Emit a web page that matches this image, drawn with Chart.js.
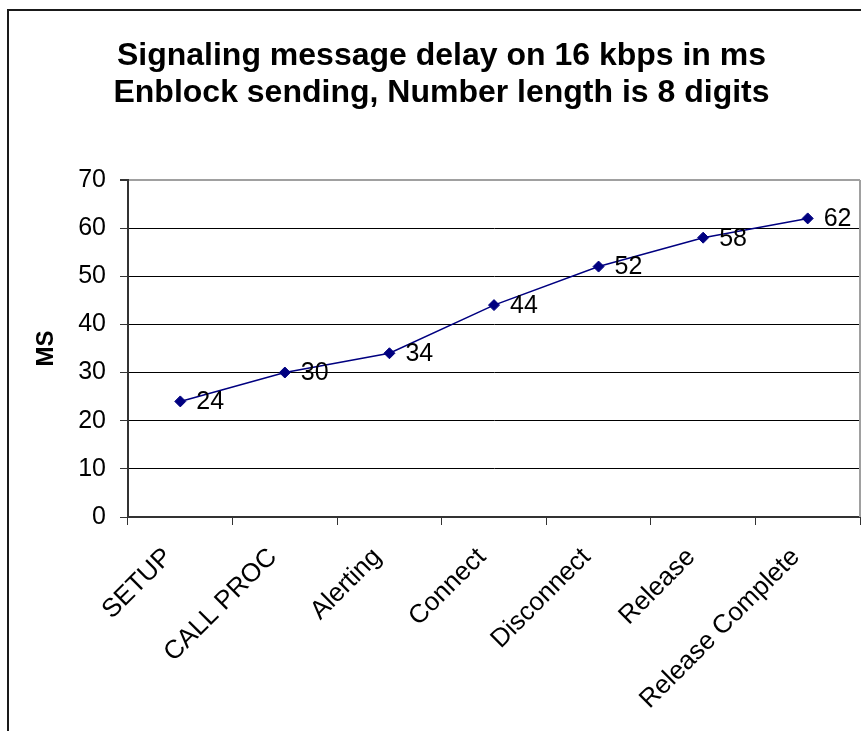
<!DOCTYPE html>
<html>
<head>
<meta charset="utf-8">
<script src="https://cdn.jsdelivr.net/npm/chart.js@4.4.1/dist/chart.umd.min.js"></script>
<style>
    body { margin: 0; background: #fff; overflow: hidden; }
    #grafic { position: absolute; left: 0; top: 0; }
    #frame {
        position: absolute; left: 7px; top: 9px; width: 900px; height: 800px;
        border: 2px solid #1a1a1a; pointer-events: none;
    }
</style>
</head>
<body>
<canvas id="grafic" width="883" height="731"></canvas>
<div id="frame"></div>
<script>
const categories = ['SETUP', 'CALL PROC', 'Alerting', 'Connect', 'Disconnect', 'Release', 'Release Complete'];
const delays = [24, 30, 34, 44, 52, 58, 62];
const title_lines = ['Signaling message delay on 16 kbps in ms', 'Enblock sending, Number length is 8 digits'];
const y_max = 70;
const y_step = 10;

const font_family = "'Liberation Sans', Arial, sans-serif";
Chart.defaults.color = '#000';
Chart.defaults.font.family = font_family;

// values written next to each point
const point_labels = {
    id: 'point_labels',
    afterDatasetsDraw(chart) {
        const ctx = chart.ctx;
        const meta = chart.getDatasetMeta(0);
        ctx.save();
        ctx.font = '25px ' + font_family;
        ctx.fillStyle = '#000';
        ctx.textAlign = 'left';
        ctx.textBaseline = 'middle';
        meta.data.forEach((p, i) => {
            ctx.fillText(String(delays[i]), p.x + 16, p.y + 1);
        });
        ctx.restore();
    }
};

// grey right edge of the plot area
const plot_frame = {
    id: 'plot_frame',
    beforeDatasetsDraw(chart) {
        const a = chart.chartArea;
        const ctx = chart.ctx;
        ctx.save();
        ctx.strokeStyle = '#a0a0a0';
        ctx.lineWidth = 2;
        ctx.beginPath();
        ctx.moveTo(a.right, a.top);
        ctx.lineTo(a.right, a.bottom);
        ctx.stroke();
        ctx.restore();
    }
};

function create_grafic() {
    const ctx = document.getElementById('grafic');
    const data = {
        labels: categories,
        datasets: [{
            data: delays,
            borderColor: '#000080',
            backgroundColor: '#000080',
            borderWidth: 1.5,
            pointStyle: 'rectRot',
            pointRadius: 5.5,
            pointBorderWidth: 1,
            pointBackgroundColor: '#000080',
            tension: 0
        }]
    };
    const config = {
        type: 'line',
        data: data,
        options: {
            responsive: false,
            animation: false,
            layout: {padding: 0},
            plugins: {
                legend: {display: false},
                tooltip: {enabled: false},
                title: {
                    display: true,
                    text: title_lines,
                    color: '#000',
                    font: {size: 32, weight: 'bold', lineHeight: 1.17},
                    padding: {top: 37, bottom: 68}
                }
            },
            scales: {
                x: {
                    offset: true,
                    grid: {
                        offset: true,
                        drawOnChartArea: false,
                        drawTicks: true,
                        tickLength: 8,
                        tickColor: '#333'
                    },
                    border: {color: '#333', width: 2},
                    ticks: {
                        autoSkip: false,
                        minRotation: 45,
                        maxRotation: 45,
                        padding: 17,
                        labelOffset: -12,
                        font: {size: 26}
                    },
                    afterFit: (scale) => { scale.height = 214; }
                },
                y: {
                    min: 0,
                    max: y_max,
                    ticks: {stepSize: y_step, padding: 14, font: {size: 25}},
                    grid: {
                        color: (c) => c.tick && c.tick.value === y_max ? '#a0a0a0' : '#000',
                        lineWidth: (c) => c.tick && c.tick.value === y_max ? 2 : 1,
                        tickLength: 8,
                        tickColor: '#333'
                    },
                    border: {color: '#333', width: 2},
                    title: {
                        display: true,
                        text: 'MS',
                        font: {size: 24, weight: 'bold', lineHeight: 1.2},
                        padding: {top: 32, bottom: 0}
                    },
                    afterFit: (scale) => { scale.width = 128; }
                },
                // empty strip right of the plot, the chart runs past the window edge
                y_right: {
                    position: 'right',
                    display: true,
                    ticks: {display: false},
                    grid: {display: false},
                    border: {display: false},
                    afterFit: (scale) => { scale.width = 23; }
                }
            }
        },
        plugins: [point_labels, plot_frame]
    };
    new Chart(ctx, config);
}

create_grafic();
</script>
</body>
</html>
